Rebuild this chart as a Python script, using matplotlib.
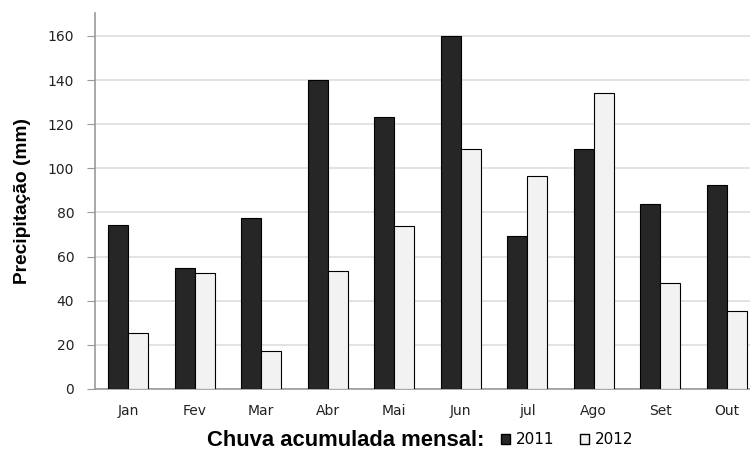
import numpy as np
import matplotlib
matplotlib.use("Agg")
import matplotlib.pyplot as plt
from matplotlib.patches import Patch

months = ["Jan", "Fev", "Mar", "Abr", "Mai", "Jun", "jul", "Ago", "Set", "Out"]
chuva_2011 = [74.3, 55, 77.5, 140, 123.3, 160, 69.4, 108.8, 84, 92.3]
chuva_2012 = [25.4, 52.5, 17.2, 53.5, 74, 109, 96.5, 134, 48, 35.3]
yticks = [0, 20, 40, 60, 80, 100, 120, 140, 160]

fig = plt.figure(figsize=(7.5, 4.5), dpi=100)
ax = fig.add_axes([0.1267, 0.1356, 0.8733, 0.8354])

x = np.arange(len(months))
w = 0.3
ax.bar(x - w/2, chuva_2011, w, color="#262626", edgecolor="black", linewidth=0.8, zorder=3)
ax.bar(x + w/2, chuva_2012, w, color="#f2f2f2", edgecolor="black", linewidth=0.8, zorder=3)

ax.set_xlim(-0.5, 9.35)
ax.set_ylim(0, 170.4)
ax.set_yticks(yticks)
ax.set_xticks(x)
ax.set_xticklabels(months)
ax.grid(axis="y", color="#dedede", linewidth=1.2, zorder=0)
ax.tick_params(axis="y", length=6, color="#999999", labelsize=10, labelcolor="#222222", pad=9)
ax.tick_params(axis="x", length=0, labelsize=10, labelcolor="#222222", pad=11)
for s in ["top", "right"]:
    ax.spines[s].set_visible(False)
ax.spines["left"].set_color("#999999")
ax.spines["bottom"].set_color("#999999")
ax.spines["left"].set_linewidth(1.2)
ax.spines["bottom"].set_linewidth(1.2)

ax.set_ylabel("Precipitação (mm)", fontsize=13.8, fontweight="bold",
              family="Liberation Sans", labelpad=12)

legend_y = (450 - 440) / 450
fig.text(0.276, legend_y, "Chuva acumulada mensal:", fontsize=15.8, fontweight="bold",
         family="Liberation Sans", va="center")
handles = [Patch(facecolor="#262626", edgecolor="black", label="2011"),
           Patch(facecolor="#f2f2f2", edgecolor="black", label="2012")]
fig.legend(handles=handles, ncol=2, frameon=False, loc="center left",
           bbox_to_anchor=(0.668, legend_y), fontsize=11, handlelength=0.6,
           handleheight=0.6, handletextpad=0.35, columnspacing=1.7,
           borderpad=0, borderaxespad=0)

fig.savefig("out.png", dpi=100)
